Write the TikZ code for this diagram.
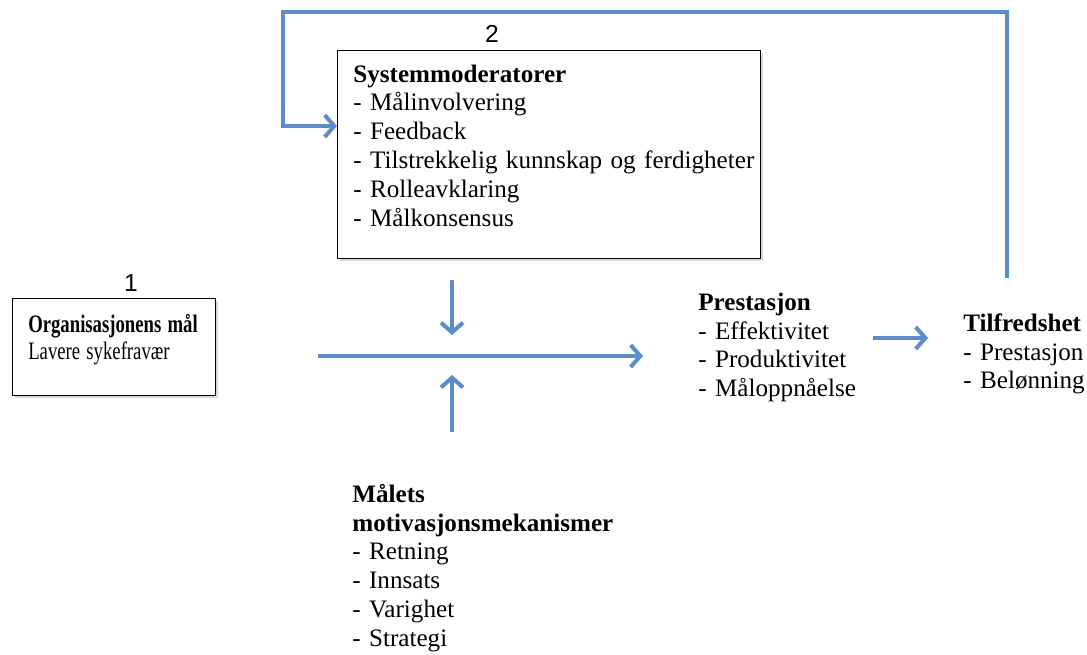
\documentclass[tikz,border=0pt]{standalone}
\usepackage{fontspec}
\setmainfont{Liberation Serif}
\newfontfamily\nrfont{Liberation Sans}
\usetikzlibrary{arrows.meta,shadows}
\definecolor{pil}{HTML}{5B8DC8}
\tikzset{
  flow/.style={draw=pil, line width=2.3pt, -{Straight Barb[length=5.5pt,width=12.5pt]}},
  boks/.style={draw=black, line width=0.7pt, fill=white, inner sep=0pt, anchor=north west,
    drop shadow={shadow xshift=1.5pt, shadow yshift=-1.5pt, opacity=0.3}},
  liste/.style={font=\fontsize{14.3}{16.5}\selectfont, align=left, text width=8.5cm, inner sep=0pt, anchor=base west},
  nr/.style={font=\nrfont\fontsize{14}{16}\selectfont, inner sep=0pt},
}
\begin{document}
\begin{tikzpicture}[x=0.02cm, y=-0.02cm]
  \useasboundingbox (0,0) rectangle (1087,654);
  \node[boks, minimum width=4.06cm, minimum height=1.94cm] (mal) at (12,298) {};
  \node[boks, minimum width=8.46cm, minimum height=4.16cm] (moderatorer) at (337,50) {};
  \node[nr] (nr1) at (131,283) {1};
  \node[nr] (nr2) at (492,34) {2};
  \node[liste, text width=5cm, font=\fontsize{14.3}{15.6}\selectfont, xscale=0.745, transform shape] (maltekst) at (28,332) {\textbf{Organisasjonens mål}\\Lavere sykefravær};
  \node[liste] (moderatorliste) at (353,82) {\textbf{Systemmoderatorer}\\- Målinvolvering\\- Feedback\\- Tilstrekkelig kunnskap og ferdigheter\\- Rolleavklaring\\- Målkonsensus};
  \node[liste, text width=4cm] (prestasjon) at (698,310) {\textbf{Prestasjon}\\- Effektivitet\\- Produktivitet\\- Måloppnåelse};
  \node[liste, text width=2.5cm] (tilfredshet) at (963,331) {\textbf{Tilfredshet}\\- Prestasjon\\- Belønning};
  \node[liste, text width=6cm] (mekanismer) at (352,502) {\textbf{Målets}\\\textbf{motivasjonsmekanismer}\\- Retning\\- Innsats\\- Varighet\\- Strategi};

  \coordinate (start) at (318,356);
  \coordinate (slutt) at (643,356);
  \coordinate (kryss) at (452,356);
  \coordinate (ned) at (452,280);
  \coordinate (opp) at (452,432);
  \coordinate (fra) at (873,338);
  \coordinate (til) at (928,338);
  \coordinate (retur) at (1007,278);
  \coordinate (topp) at (283,12);
  \coordinate (inn) at (283,126);

  \draw[flow] (start) -- (slutt);
  \draw[flow] (ned) -- ([yshift=0.42cm]kryss);
  \draw[flow] (opp) -- ([yshift=-0.38cm]kryss);
  \draw[flow] (fra) -- (til);
  \draw[flow] (retur) |- (topp) -- (inn) -- (inn -| moderatorer.west);
\end{tikzpicture}
\end{document}
